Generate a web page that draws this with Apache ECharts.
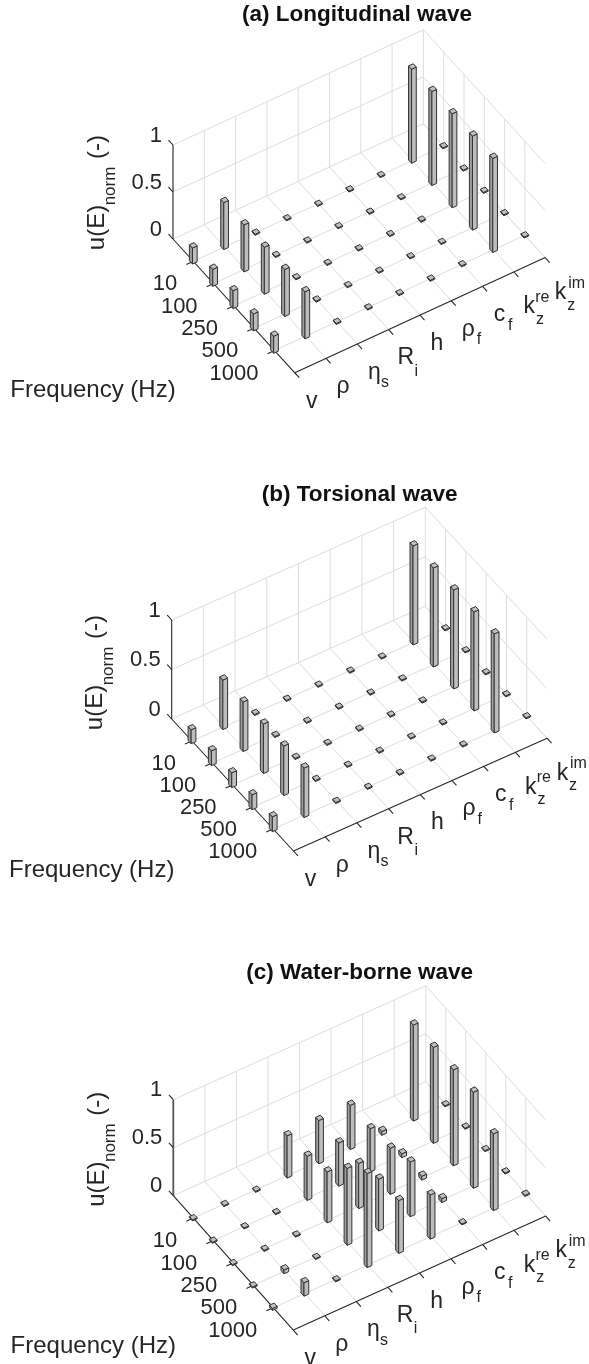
<!DOCTYPE html>
<html>
<head>
<meta charset="utf-8">
<style>html,body{margin:0;padding:0;background:#fff}#c{width:589px;height:1364px}</style>
<script src="https://cdn.jsdelivr.net/npm/echarts@6/dist/echarts.min.js"></script>
</head>
<body>
<div id="c"></div>
<script>
// ---- data ----
const frequencyLabels = ['10', '100', '250', '500', '1000'];
const parameterLabels = ['v', 'ρ', 'η', 'R', 'h', 'ρ', 'c', 'k', 'k'];
const parameterSubs   = ['', '', 's', 'i', '', 'f', 'f', 'z', 'z'];
const parameterSups   = ['', '', '', '', '', '', '', 're', 'im'];
const zTickValues = [0, 0.5, 1];
const zTickLabels = ['0', '0.5', '1'];
const panelTitles = ['(a) Longitudinal wave', '(b) Torsional wave', '(c) Water-borne wave'];

// one row per frequency, one column per parameter
const longitudinal = [
  [0.17, 0.50, 0.01, 0.01, 0.01, 0.01, 0.01, 1.00, 0.01],
  [0.18, 0.50, 0.01, 0.01, 0.01, 0.01, 0.01, 1.00, 0.01],
  [0.19, 0.50, 0.01, 0.01, 0.01, 0.01, 0.01, 1.00, 0.01],
  [0.18, 0.50, 0.01, 0.01, 0.01, 0.01, 0.01, 1.00, 0.01],
  [0.18, 0.50, 0.01, 0.01, 0.01, 0.01, 0.01, 1.00, 0.01]
];
const torsional = [
  [0.14, 0.50, 0.01, 0.01, 0.01, 0.01, 0.01, 1.00, 0.01],
  [0.15, 0.50, 0.01, 0.01, 0.01, 0.01, 0.01, 1.00, 0.01],
  [0.15, 0.50, 0.01, 0.01, 0.01, 0.01, 0.01, 1.00, 0.01],
  [0.15, 0.50, 0.01, 0.01, 0.01, 0.01, 0.01, 1.00, 0.01],
  [0.15, 0.50, 0.01, 0.01, 0.01, 0.01, 0.01, 1.00, 0.01]
];
const waterBorne = [
  [0.01, 0.01, 0.01, 0.44, 0.45, 0.46, 0.04, 1.00, 0.01],
  [0.01, 0.01, 0.01, 0.46, 0.45, 0.45, 0.04, 1.00, 0.01],
  [0.01, 0.01, 0.01, 0.53, 0.47, 0.48, 0.04, 1.00, 0.01],
  [0.01, 0.04, 0.01, 0.80, 0.54, 0.57, 0.04, 1.00, 0.01],
  [0.02, 0.14, 0.01, 0.98, 0.55, 0.46, 0.01, 0.80, 0.01]
];
const panelValues = [longitudinal, torsional, waterBorne];

// ---- layout of each oblique panel (origin = floor corner under the z axis) ----
const panels = [
  { ox: 173,   oy: 239,    ix: 31.3,  iy: -14.4,  jx: 20.3, jy: 22.3, zh: 94,  titleX: 357,   titleY: 15,  zw: 1.1, zc: '#262626' },
  { ox: 171.7, oy: 719,    ix: 31.7,  iy: -14.1,  jx: 20.3, jy: 22.0, zh: 99,  titleX: 359.7, titleY: 495, zw: 1.1, zc: '#262626' },
  { ox: 173.3, oy: 1195.7, ix: 31.56, iy: -14.25, jx: 20.0, jy: 22.4, zh: 96,  titleX: 359.7, titleY: 973, zw: 1.8, zc: '#555555' }
];
const FONT = '"Liberation Sans", Arial, sans-serif';
const GW = 400, GUP = 220, GDOWN = 160;
const nI = parameterLabels.length, jMax = frequencyLabels.length + 1, BAR = 0.15;

function project(p, i, j, z) {
  return [i * p.ix + j * p.jx, -(i * p.iy + j * p.jy) + z * p.zh];
}

const grids = [], xAxes = [], yAxes = [], series = [], titles = [];

function lineEl(api, p, a, b, stroke, w) {
  const A = api.coord(project(p, a[0], a[1], a[2]));
  const B = api.coord(project(p, b[0], b[1], b[2]));
  return { type: 'line', shape: { x1: A[0], y1: A[1], x2: B[0], y2: B[1] }, style: { stroke: stroke, lineWidth: w }, silent: true };
}
function textEl(x, y, text, size, align, rot, color) {
  return {
    type: 'text', x: x, y: y, rotation: rot || 0, silent: true,
    style: { text: text, fontSize: size, fontFamily: FONT, fill: color || '#262626', align: align || 'center', verticalAlign: 'middle' }
  };
}

panels.forEach(function (p, k) {
  grids.push({ left: p.ox, top: p.oy - GUP, width: GW, height: GUP + GDOWN, show: false });
  xAxes.push({ type: 'value', gridIndex: k, min: 0, max: GW, show: false });
  yAxes.push({ type: 'value', gridIndex: k, min: -GDOWN, max: GUP, show: false });
  titles.push({
    text: panelTitles[k], left: p.titleX, top: p.titleY, textAlign: 'center', textVerticalAlign: 'middle', padding: 0,
    textStyle: { fontFamily: FONT, fontSize: 22.5, fontWeight: 'bold', color: '#111' }
  });

  // frame: light grid lines first, then the dark axes with their ticks
  const GRID = '#dedede', AXIS = '#262626';
  const seg = [];
  for (let i = 0; i < nI; i++) {
    if (i > 0) seg.push([i, 0, 0, i, jMax, 0, 0]);
    if (i > 0) seg.push([i, 0, 0, i, 0, 1, 0]);
  }
  for (let j = 1; j < jMax; j++) {
    seg.push([0, j, 0, nI - 1, j, 0, 0]);
    seg.push([nI - 1, j, 0, nI - 1, j, 1, 0]);
  }
  zTickValues.forEach(function (z) {
    seg.push([0, 0, z, nI - 1, 0, z, 0]);
    seg.push([nI - 1, 0, z, nI - 1, jMax, z, 0]);
  });
  seg.push([0, 0, 0, 0, 0, 1, 2]);
  seg.push([0, 0, 0, 0, jMax, 0, 1]);
  seg.push([0, jMax, 0, nI - 1, jMax, 0, 1]);
  for (let i = 0; i < nI; i++) seg.push([i, jMax, 0, i, jMax + 0.22, 0, 1]);
  for (let j = 1; j < jMax; j++) seg.push([0, j, 0, -0.22, j, 0, 1]);
  zTickValues.forEach(function (z) { seg.push([0, 0, z, 0, -0.22, z, 1]); });

  series.push({
    type: 'custom', coordinateSystem: 'cartesian2d', xAxisIndex: k, yAxisIndex: k, silent: true, animation: false, clip: false, z: 2,
    data: seg,
    encode: { x: 0, y: 1 },
    renderItem: function (params, api) {
      const d = seg[params.dataIndex];
      const a = [d[0], d[1], d[2]], b = [d[3], d[4], d[5]];
      if (d[6] === 2) return lineEl(api, p, a, b, p.zc, p.zw);
      return d[6] ? lineEl(api, p, a, b, AXIS, 1.1) : lineEl(api, p, a, b, GRID, 1);
    }
  });

  // bars, back to front: high parameter index and low frequency index first
  const bars = [];
  for (let i = nI - 1; i >= 0; i--) {
    for (let f = 0; f < frequencyLabels.length; f++) {
      bars.push([i, f + 1, panelValues[k][f][i]]);
    }
  }
  series.push({
    type: 'custom', coordinateSystem: 'cartesian2d', xAxisIndex: k, yAxisIndex: k, silent: true, animation: false, clip: false, z: 3,
    data: bars,
    encode: { x: 0, y: 1 },
    renderItem: function (params, api) {
      const i = api.value(0), j = api.value(1), v = api.value(2), h = BAR / 2;
      const P = function (a, b, z) { return api.coord(project(p, i + a, j + b, z)); };
      const edge = { stroke: '#333333', lineWidth: 1, lineJoin: 'round' };
      const face = function (pts, fill) {
        return { type: 'polygon', shape: { points: pts }, style: Object.assign({ fill: fill }, edge), silent: true };
      };
      return {
        type: 'group',
        children: [
          face([P(-h, -h, 0), P(-h, h, 0), P(-h, h, v), P(-h, -h, v)], '#a0a0a0'),
          face([P(-h, h, 0), P(h, h, 0), P(h, h, v), P(-h, h, v)], '#bdbdbd'),
          face([P(-h, -h, v), P(h, -h, v), P(h, h, v), P(-h, h, v)], '#c0c0c0')
        ]
      };
    }
  });

  // text anchored to the ticks through the same projection
  const labels = [];
  parameterLabels.forEach(function (t, i) { labels.push(['param', i]); });
  frequencyLabels.forEach(function (t, f) { labels.push(['freq', f]); });
  zTickLabels.forEach(function (t, n) { labels.push(['z', n]); });
  labels.push(['names', 0]);

  series.push({
    type: 'custom', coordinateSystem: 'cartesian2d', xAxisIndex: k, yAxisIndex: k, silent: true, animation: false, clip: false, z: 4,
    data: labels.map(function (l, n) { return [n, 0]; }),
    encode: { x: 0, y: 1 },
    renderItem: function (params, api) {
      const l = labels[params.dataIndex], n = l[1], ch = [];
      if (l[0] === 'param') {
        const c = api.coord(project(p, n, jMax, 0));
        const hasSup = !!parameterSups[n];
        const mx = c[0] + (hasSup ? 15.4 : 17), my = c[1] + (hasSup ? 35 : 28.5);
        ch.push(textEl(mx, my, parameterLabels[n], 23));
        if (parameterSubs[n]) {
          const sy = parameterSubs[n] === 'i' ? 13 : (hasSup ? 12.5 : 10.5);
          ch.push(textEl(mx + 10.6, my + sy, parameterSubs[n], 16));
        }
        if (hasSup) ch.push(textEl(mx + (n === 8 ? 16 : 13), my - 9.5, parameterSups[n], 16));
      } else if (l[0] === 'freq') {
        const c = api.coord(project(p, 0, n + 1, 0));
        ch.push(textEl(c[0] - 16, c[1] + 23, frequencyLabels[n], 22, 'right'));
      } else if (l[0] === 'z') {
        const c = api.coord(project(p, 0, 0, zTickValues[n]));
        ch.push(textEl(c[0] - 11, c[1] - 9.5, zTickLabels[n], 22, 'right'));
      } else {
        const c = api.coord(project(p, 0, 0, 0));
        ch.push(textEl(c[0] - 80, c[1] + 151, 'Frequency (Hz)', 24));
        const r = Math.PI / 2;
        ch.push(textEl(c[0] - 76, c[1] - 11.5, 'u(E)', 24, 'center', r));
        ch.push(textEl(c[0] - 63, c[1] - 53, 'norm', 17, 'center', r));
        ch.push(textEl(c[0] - 76, c[1] - 92, '(-)', 24, 'center', r));
      }
      return { type: 'group', children: ch };
    }
  });
});

const chart = echarts.init(document.getElementById('c'), null, { renderer: 'canvas' });
chart.setOption({
  backgroundColor: '#ffffff',
  animation: false,
  title: titles,
  grid: grids,
  xAxis: xAxes,
  yAxis: yAxes,
  series: series
});
</script>
</body>
</html>
